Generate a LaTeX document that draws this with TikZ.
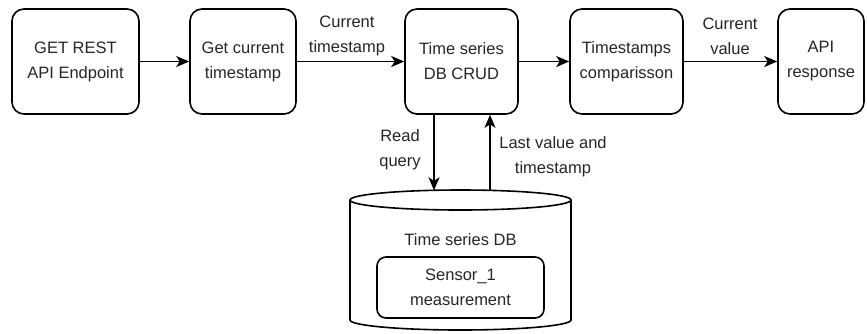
\documentclass[tikz,border=0pt]{standalone}
\usepackage{fontspec}
\setmainfont{Liberation Sans}
\usetikzlibrary{arrows.meta,calc}
\begin{document}
\begin{tikzpicture}[x=1pt,y=-1pt,
  font=\fontsize{16.5}{25}\selectfont,
  proc/.style={draw,line width=1.6pt,rounded corners=12pt,align=center,inner sep=0pt,text=black!85},
  conn/.style={line width=1.6pt,-{Stealth[length=13pt,width=11pt,inset=3.5pt]}},
  lbl/.style={align=center,inner sep=0pt,text=black!85}]
\useasboundingbox (0,0) rectangle (867,333);
% process boxes
\node[proc,minimum width=127pt,minimum height=105pt] (get) at (75.5,61.5) {GET REST\\API Endpoint};
\node[proc,minimum width=106pt,minimum height=105pt] (cur) at (243,61.5) {Get current\\timestamp};
\node[proc,minimum width=113pt,minimum height=105pt] (crud) at (461.5,61.5) {Time series\\DB CRUD};
\node[proc,minimum width=113pt,minimum height=105pt] (cmp) at (626.5,61.5) {Timestamps\\comparisson};
\node[proc,minimum width=86pt,minimum height=105pt] (api) at (821,61.5) {API\\response};
% cylinder
\draw[line width=1.6pt] (350,200) -- (350,320) arc[start angle=180,end angle=360,x radius=110.5,y radius=-10] -- (571,200);
\draw[line width=1.6pt] (460.5,200) ellipse[x radius=110.5,y radius=10];
\node[lbl] (dbl) at (460.5,240) {Time series DB};
\node[proc,rounded corners=9pt,minimum width=167pt,minimum height=61pt] (sens) at (460.5,287.5) {Sensor\_1\\measurement};
\coordinate (dbin) at (434,190.3);
\coordinate (dbout) at (490,190.6);
% connectors
\draw[conn] (get) -- (cur);
\draw[conn] (cur) -- (crud);
\draw[conn] (crud) -- (cmp);
\draw[conn] (cmp) -- (api);
\draw[conn] (crud.south -| dbin) -- (dbin);
\draw[conn] (dbout) -- (crud.south -| dbout);
% labels
\node[lbl] (l1) at (347,36) {Current\\timestamp};
\node[lbl] (l2) at (730,36) {Current\\value};
\node[lbl] (l3) at (400,150) {Read\\query};
\node[lbl] (l4) at (553,157) {Last value and\\timestamp};
\end{tikzpicture}
\end{document}
